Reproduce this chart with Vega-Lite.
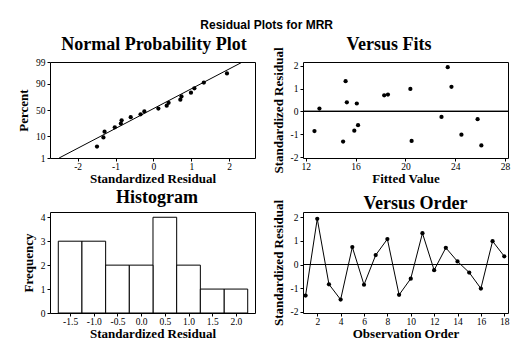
{
  "$schema": "https://vega.github.io/schema/vega-lite/v6.json",
  "background": "white",
  "padding": {"left": 17, "top": 18, "right": 4, "bottom": 0},
  "title": {"text": "Residual Plots for MRR", "font": "Liberation Sans", "fontSize": 12, "fontWeight": "bold", "color": "black", "anchor": "middle", "offset": 3.5, "dx": 3},
  "datasets": {
    "res": [
      {"order": 1, "fit": 15.0, "resid": -1.32, "nscore": -1.33},
      {"order": 2, "fit": 23.4, "resid": 1.94, "nscore": 1.77},
      {"order": 3, "fit": 15.9, "resid": -0.84, "nscore": -0.50},
      {"order": 4, "fit": 26.1, "resid": -1.49, "nscore": -1.77},
      {"order": 5, "fit": 18.6, "resid": 0.74, "nscore": 0.66},
      {"order": 6, "fit": 12.7, "resid": -0.86, "nscore": -0.66},
      {"order": 7, "fit": 15.3, "resid": 0.40, "nscore": 0.35},
      {"order": 8, "fit": 23.7, "resid": 1.08, "nscore": 1.05},
      {"order": 9, "fit": 20.5, "resid": -1.29, "nscore": -1.05},
      {"order": 10, "fit": 16.2, "resid": -0.60, "nscore": -0.35},
      {"order": 11, "fit": 15.2, "resid": 1.33, "nscore": 1.33},
      {"order": 12, "fit": 22.9, "resid": -0.24, "nscore": -0.07},
      {"order": 13, "fit": 18.3, "resid": 0.71, "nscore": 0.50},
      {"order": 14, "fit": 13.1, "resid": 0.13, "nscore": 0.07},
      {"order": 15, "fit": 25.8, "resid": -0.34, "nscore": -0.21},
      {"order": 16, "fit": 24.5, "resid": -1.02, "nscore": -0.84},
      {"order": 17, "fit": 20.4, "resid": 0.99, "nscore": 0.84},
      {"order": 18, "fit": 16.1, "resid": 0.35, "nscore": 0.21}
    ],
    "fitline": [
      {"x": -2.49, "z": -2.3263},
      {"x": 2.35, "z": 2.3263}
    ]
  },
  "columns": 2,
  "bounds": "flush",
  "spacing": {"row": 54, "column": 48},
  "concat": [
    {
      "width": 205, "height": 96,
      "title": {"text": "Normal Probability Plot", "offset": 3.5, "dx": 1.5, "frame": "group"},
      "layer": [
        {
          "data": {"name": "fitline"},
          "mark": {"type": "line", "color": "black", "strokeWidth": 1, "clip": true},
          "encoding": {
            "x": {"field": "x", "type": "quantitative", "scale": {"domain": [-2.73, 2.68], "nice": false, "zero": false}, "axis": {"title": "Standardized Residual", "values": [-2, -1, 0, 1, 2], "labelOverlap": false, "labelExpr": "datum.value < 0 ? '-' + (-datum.value) : '' + datum.value"}},
            "y": {"field": "z", "type": "quantitative", "scale": {"domain": [-2.3263, 2.3263], "nice": false, "zero": false}, "axis": {"title": "Percent", "values": [-2.3263, -1.2816, 0, 1.2816, 2.3263], "labelOverlap": false, "labelExpr": "datum.value > 2 ? '99' : datum.value > 1 ? '90' : datum.value > -1 ? '50' : datum.value > -2 ? '10' : '1'"}}
          }
        },
        {
          "data": {"name": "res"},
          "mark": {"type": "circle", "color": "black", "opacity": 1, "size": 18},
          "encoding": {
            "x": {"field": "resid", "type": "quantitative", "scale": {"domain": [-2.73, 2.68], "nice": false, "zero": false}, "axis": {"title": "Standardized Residual", "values": [-2, -1, 0, 1, 2], "labelOverlap": false, "labelExpr": "datum.value < 0 ? '-' + (-datum.value) : '' + datum.value"}},
            "y": {"field": "nscore", "type": "quantitative", "scale": {"domain": [-2.3263, 2.3263], "nice": false, "zero": false}, "axis": {"title": "Percent", "values": [-2.3263, -1.2816, 0, 1.2816, 2.3263], "labelOverlap": false, "labelExpr": "datum.value > 2 ? '99' : datum.value > 1 ? '90' : datum.value > -1 ? '50' : datum.value > -2 ? '10' : '1'"}}
          }
        }
      ]
    },
    {
      "width": 205, "height": 96,
      "title": {"text": "Versus Fits", "offset": -7, "dx": -16.5, "frame": "group"},
      "data": {"name": "res"},
      "layer": [
        {
          "mark": {"type": "rule", "color": "black", "strokeWidth": 1},
          "encoding": {"y": {"datum": 0, "type": "quantitative", "scale": {"domain": [-2.04, 2.17], "nice": false, "zero": false}, "axis": {"title": "Standardized Residual", "values": [-2, -1, 0, 1, 2], "labelOverlap": false, "labelExpr": "datum.value < 0 ? '-' + (-datum.value) : '' + datum.value"}}}
        },
        {
          "mark": {"type": "circle", "color": "black", "opacity": 1, "size": 18},
          "encoding": {
            "x": {"field": "fit", "type": "quantitative", "scale": {"domain": [11.78, 28.24], "nice": false, "zero": false}, "axis": {"title": "Fitted Value", "values": [12, 16, 20, 24, 28], "labelOverlap": false}},
            "y": {"field": "resid", "type": "quantitative", "scale": {"domain": [-2.04, 2.17], "nice": false, "zero": false}, "axis": {"title": "Standardized Residual", "values": [-2, -1, 0, 1, 2], "labelOverlap": false, "labelExpr": "datum.value < 0 ? '-' + (-datum.value) : '' + datum.value"}}
          }
        }
      ]
    },
    {
      "width": 205, "height": 101,
      "title": {"text": "Histogram", "offset": 5, "dx": 4.5, "frame": "group"},
      "data": {"name": "res"},
      "transform": [
        {"bin": {"extent": [-1.75, 2.25], "step": 0.5, "nice": false}, "field": "resid", "as": ["lo", "hi"]},
        {"aggregate": [{"op": "count", "as": "n"}], "groupby": ["lo", "hi"]}
      ],
      "mark": {"type": "rect", "fill": "white", "stroke": "black", "strokeWidth": 1},
      "encoding": {
        "x": {"field": "lo", "type": "quantitative", "scale": {"domain": [-1.925, 2.404], "nice": false, "zero": false}, "axis": {"title": "Standardized Residual", "values": [-1.5, -1.0, -0.5, 0.0, 0.5, 1.0, 1.5, 2.0], "labelOverlap": false, "labelExpr": "datum.value < 0 ? '-' + format(-datum.value, '.1f') : format(datum.value, '.1f')"}},
        "x2": {"field": "hi"},
        "y": {"field": "n", "type": "quantitative", "scale": {"domain": [0, 4.22], "nice": false}, "axis": {"title": "Frequency", "values": [0, 1, 2, 3, 4], "labelOverlap": false}},
        "y2": {"datum": 0}
      }
    },
    {
      "width": 205, "height": 101,
      "title": {"text": "Versus Order", "offset": -13.5, "dx": 10, "frame": "group"},
      "data": {"name": "res"},
      "layer": [
        {
          "mark": {"type": "rule", "color": "black", "strokeWidth": 1},
          "encoding": {"y": {"datum": 0, "type": "quantitative", "scale": {"domain": [-2.06, 2.23], "nice": false, "zero": false}, "axis": {"title": "Standardized Residual", "values": [-2, -1, 0, 1, 2], "labelOverlap": false, "labelExpr": "datum.value < 0 ? '-' + (-datum.value) : '' + datum.value"}}}
        },
        {
          "mark": {"type": "line", "color": "black", "strokeWidth": 1, "point": {"filled": true, "fill": "black", "size": 18, "opacity": 1}},
          "encoding": {
            "x": {"field": "order", "type": "quantitative", "scale": {"domain": [0.78, 18.32], "nice": false, "zero": false}, "axis": {"title": "Observation Order", "values": [2, 4, 6, 8, 10, 12, 14, 16, 18], "labelOverlap": false}},
            "y": {"field": "resid", "type": "quantitative", "scale": {"domain": [-2.06, 2.23], "nice": false, "zero": false}, "axis": {"title": "Standardized Residual", "values": [-2, -1, 0, 1, 2], "labelOverlap": false, "labelExpr": "datum.value < 0 ? '-' + (-datum.value) : '' + datum.value"}}
          }
        }
      ]
    }
  ],
  "config": {
    "view": {"stroke": "black", "strokeWidth": 1},
    "axis": {"grid": false, "domain": false, "tickColor": "black", "tickSize": 3, "labelFont": "Liberation Serif", "labelFontSize": 9.5, "labelColor": "black", "labelPadding": 2, "labelOverlap": false, "labelFlush": false, "labelBound": false, "titleFont": "Liberation Serif", "titleFontSize": 13, "titleFontWeight": "bold", "titleColor": "black", "titlePadding": 5},
    "axisX": {"labelPadding": 0, "titlePadding": 1.5},
    "title": {"font": "Liberation Serif", "fontSize": 18, "fontWeight": "bold", "color": "black", "anchor": "middle"}
  }
}
